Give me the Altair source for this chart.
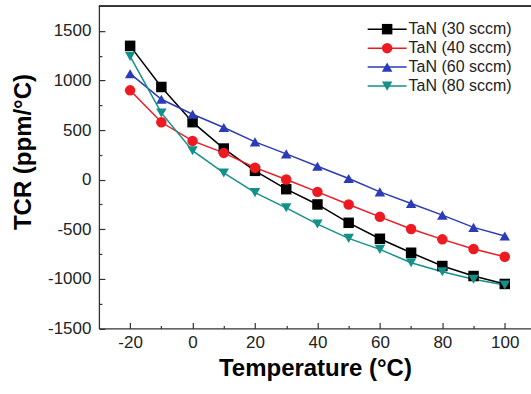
import altair as alt
import pandas as pd

# Temperature coefficient of resistance for TaN films grown at different N2 flows
temperature = [-20, -10, 0, 10, 20, 30, 40, 50, 60, 70, 80, 90, 100]
tcr_30 = [1350, 935, 580, 314, 89, -96, -250, -435, -596, -737, -871, -972, -1052]
tcr_40 = [901, 579, 391, 270, 121, 2, -123, -250, -375, -498, -602, -700, -777]
tcr_60 = [1069, 811, 660, 526, 381, 260, 136, 12, -123, -240, -358, -481, -569]
tcr_80 = [1244, 673, 292, 68, -131, -284, -448, -592, -703, -838, -928, -1005, -1062]

series = ["TaN (30 sccm)", "TaN (40 sccm)", "TaN (60 sccm)", "TaN (80 sccm)"]
colors = ["#000000", "#ee1a22", "#2c3bb6", "#13908a"]
shapes = ["square", "circle", "triangle-up", "triangle-down"]

x_ticks = [-20, 0, 20, 40, 60, 80, 100]
x_minor = [-10, 10, 30, 50, 70, 90]
y_ticks = [-1500, -1000, -500, 0, 500, 1000, 1500]
y_minor = [-1250, -750, -250, 250, 750, 1250]

rows = []
for name, vals in zip(series, [tcr_30, tcr_40, tcr_60, tcr_80]):
    for t, v in zip(temperature, vals):
        rows.append({"T": t, "TCR": v, "series": name})
df = pd.DataFrame(rows)
legend_df = pd.DataFrame({"series": series})

W, H = 432.5, 322.5
FONT = "Liberation Sans"
PLAIN = "'' + datum.value"
MARK_SIZE = 110

x_scale = alt.Scale(domain=[-30, 108.4], nice=False, zero=False)
y_scale = alt.Scale(domain=[-1500, 1750], nice=False, zero=False)
color_enc = alt.Color("series:N", scale=alt.Scale(domain=series, range=colors), legend=None)
shape_enc = alt.Shape("series:N", scale=alt.Scale(domain=series, range=shapes), legend=None)

# labelled axes (left / bottom) with inward major ticks
lines = alt.Chart(df).mark_line(strokeWidth=1.5).encode(
    x=alt.X("T:Q", scale=x_scale, axis=alt.Axis(
        orient="bottom", values=x_ticks, tickSize=alt.ExprRef("-6"),
        tickColor="#333", tickWidth=1.2, labelPadding=12, labelExpr=PLAIN,
        labelFontSize=17, labelFont=FONT, labelColor="#222",
        title="Temperature (°C)", titleFontSize=24, titleFont=FONT,
        titleFontWeight="bold", titleColor="#000", titleBaseline="alphabetic",
        titleY=47, domainColor="#333", domainWidth=1.3, grid=False)),
    y=alt.Y("TCR:Q", scale=y_scale, axis=alt.Axis(
        orient="left", values=y_ticks, tickSize=alt.ExprRef("-6"),
        tickColor="#333", tickWidth=1.2, labelPadding=14, labelExpr=PLAIN,
        labelFontSize=17, labelFont=FONT, labelColor="#222",
        title="TCR (ppm/°C)", titleFontSize=24, titleFont=FONT,
        titleFontWeight="bold", titleColor="#000", titleAngle=270,
        titleBaseline="bottom", titleAlign="center", titleX=-63, titleY=145.5,
        domainColor="#333", domainWidth=1.3, grid=False)),
    color=color_enc,
    detail="series:N",
)

# markers, carrying the short inward minor-tick axes
points = alt.Chart(df).mark_point(filled=True, size=MARK_SIZE, opacity=1).encode(
    x=alt.X("T:Q", scale=x_scale, axis=alt.Axis(
        orient="bottom", values=x_minor, labels=False, domain=False,
        title=None, grid=False, tickColor="#333", tickWidth=1.2,
        tickSize=alt.ExprRef("-3"))),
    y=alt.Y("TCR:Q", scale=y_scale, axis=alt.Axis(
        orient="left", values=y_minor, labels=False, domain=False,
        title=None, grid=False, tickColor="#333", tickWidth=1.2,
        tickSize=alt.ExprRef("-3"))),
    color=color_enc,
    shape=shape_enc,
)

top_border = alt.Chart(legend_df).mark_rule(color="#333", strokeWidth=1.3).encode(
    x=alt.value(0), x2=alt.value(W), y=alt.value(0)
)

# legend drawn as line + marker + label rows
leg_y = alt.Y("series:N", scale=alt.Scale(type="point", domain=series, range=[23, 80], padding=0), axis=None)
leg_rule = alt.Chart(legend_df).mark_rule(strokeWidth=1.5).encode(
    x=alt.value(269), x2=alt.value(308), y=leg_y, color=color_enc
)
leg_point = alt.Chart(legend_df).mark_point(filled=True, size=MARK_SIZE, opacity=1).encode(
    x=alt.value(288.5), y=leg_y, color=color_enc, shape=shape_enc
)
leg_text = alt.Chart(legend_df).mark_text(
    align="left", baseline="middle", fontSize=16, font=FONT, color="#222"
).encode(x=alt.value(310), y=leg_y, text="series:N")

chart = alt.layer(
    lines, points, top_border, leg_rule, leg_point, leg_text
).resolve_scale(y="independent").resolve_axis(
    x="independent", y="independent"
).properties(
    width=W, height=H,
    autosize=alt.AutoSizeParams(type="none"),
    padding={"left": 99, "top": 6, "right": 0, "bottom": 65.5},
    background="white",
).configure_view(strokeWidth=0)

chart.save("out.html", embed_options={"renderer": "svg", "actions": False})
